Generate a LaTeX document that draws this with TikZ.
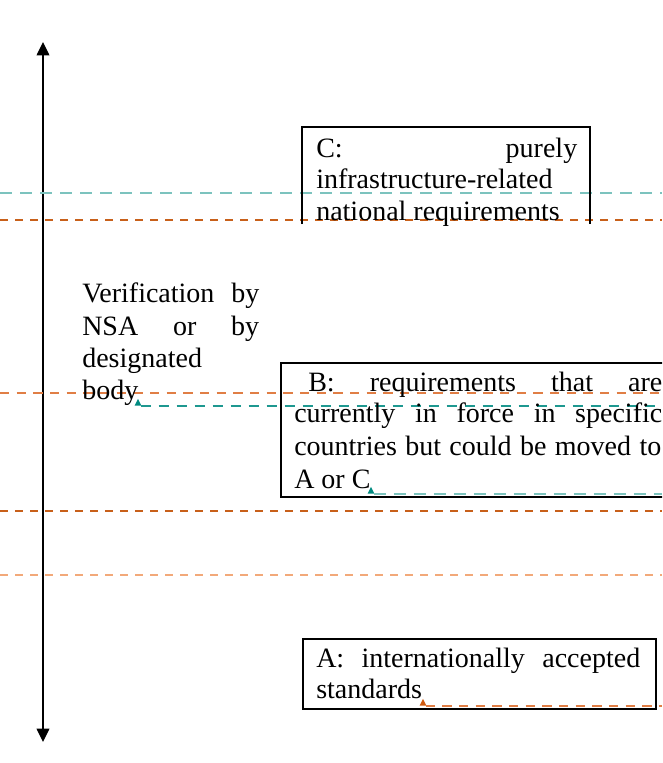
\documentclass[tikz,border=0pt]{standalone}
\usepackage{fontspec}
\setmainfont{Liberation Serif}
\usetikzlibrary{arrows.meta,shapes.geometric}
\definecolor{tealL}{HTML}{7CC3BE}
\definecolor{tealD}{HTML}{1E9890}
\definecolor{tealT}{HTML}{008A80}
\definecolor{orD}{HTML}{C8601A}
\definecolor{orM}{HTML}{E07E45}
\definecolor{orL}{HTML}{F2A97A}
\definecolor{orT}{HTML}{D05A10}
\newdimen\pxu \pxu=0.75pt
\begin{document}
\begin{tikzpicture}[x=0.75pt,y=-0.75pt,
  txt/.style={anchor=base west,inner sep=0pt,font=\fontsize{21}{24}\selectfont},
  boxline/.style={draw=black,line width=1.5pt},
  lnTL/.style={draw=tealL,line width=1.1pt,dash pattern=on 9pt off 6pt},
  lnTD/.style={draw=tealD,line width=0.9pt,dash pattern=on 8pt off 5.5pt},
  lnOD/.style={draw=orD,line width=0.9pt,dash pattern=on 6pt off 5.25pt},
  lnOM/.style={draw=orM,line width=0.9pt,dash pattern=on 7pt off 5.5pt},
  lnOL/.style={draw=orL,line width=1.3pt,dash pattern=on 6pt off 5.25pt},
  tri/.style={isosceles triangle,isosceles triangle stretches,shape border rotate=90,
    minimum width=5pt,minimum height=5pt,inner sep=0pt,draw=none}]
\useasboundingbox (0,0) rectangle (662,763);
\begin{scope}
\clip (0,0) rectangle (662,763);
% vertical double arrow
\coordinate (atop) at (43,42);
\coordinate (abot) at (43,742);
\draw[line width=1.1pt,{Triangle[width=9.5pt,length=10pt]}-{Triangle[width=9.5pt,length=10pt]}] (atop) -- (abot);

% full-width dashed lines
\coordinate (l1a) at (0,193);  \coordinate (l1b) at (662,193);
\coordinate (l2a) at (0,220);  \coordinate (l2b) at (662,220);
\coordinate (l3a) at (0,393);  \coordinate (l3b) at (662,393);
\coordinate (l4a) at (0,511);  \coordinate (l4b) at (662,511);
\coordinate (l5a) at (0,575);  \coordinate (l5b) at (662,575);
\draw[lnTL] (l1a) -- (l1b);
\draw[lnOD] (l2a) -- (l2b);
\draw[lnOM] (l3a) -- (l3b);
\draw[lnOD] (l4a) -- (l4b);
\draw[lnOL] (l5a) -- (l5b);

% Box C (open bottom)
\coordinate (c1) at (302,224); \coordinate (c2) at (302,127);
\coordinate (c3) at (590,127); \coordinate (c4) at (590,224);
\draw[boxline] (c1) -- (c2) -- (c3) -- (c4);
\node[txt] (ct1) at (316,157) {\makebox[261\pxu][s]{C: purely}};
\node[txt] (ct2) at (316,188) {infrastructure-related};
\node[txt] (ct3) at (316,220) {national requirements};

% Verification text
\node[txt] (v1) at (82,302) {\makebox[177\pxu][s]{Verification by}};
\node[txt] (v2) at (82,335) {\makebox[177\pxu][s]{NSA or by}};
\node[txt] (v3) at (82,367) {designated};
\node[txt] (v4) at (82,399) {body};
\node[tri,fill=tealT] (tv) at (138,403.5) {};
\coordinate (tve) at (662,406);
\draw[lnTD] (tv.east |- tve) -- (tve);

% Box B
\coordinate (b1) at (681,363); \coordinate (b2) at (281,363);
\coordinate (b3) at (281,497); \coordinate (b4) at (681,497);
\node[txt] (bt1) at (294,391) {\makebox[368\pxu][s]{\hspace{14\pxu}B: requirements that are}};
\node[txt] (bt2) at (294,422) {\makebox[368\pxu][s]{currently in force in specific}};
\node[txt] (bt3) at (294,455) {\makebox[367\pxu][s]{countries but could be moved to}};
\node[txt] (bt4) at (294,488) {A or C};
\draw[boxline] (b1) -- (b2) -- (b3) -- (b4);
\node[tri,fill=tealT] (tb) at (371,491.5) {};
\coordinate (tbe) at (662,494);
\draw[lnTL] (tb.east |- tbe) -- (tbe);

% Box A
\node[draw=black,line width=1.5pt,minimum width=353*0.75pt,minimum height=70*0.75pt,inner sep=0pt,anchor=north west] (boxA) at (302,638) {};
\node[txt] (at1) at (316,667) {\makebox[324\pxu][s]{A: internationally accepted}};
\node[txt] (at2) at (316,698) {standards};
\node[tri,fill=orT] (ta) at (423,703.5) {};
\coordinate (tae) at (662,706);
\draw[draw=orM,line width=1pt,dash pattern=on 7pt off 5.5pt] (ta.east |- tae) -- (tae);
\end{scope}
\end{tikzpicture}
\end{document}
